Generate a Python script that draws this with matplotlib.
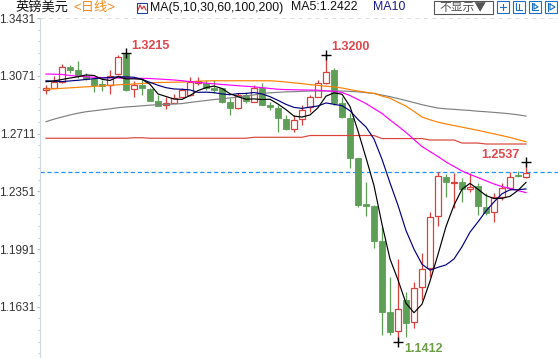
import matplotlib
matplotlib.use("Agg")
import matplotlib.pyplot as plt
from matplotlib.patches import Rectangle
from matplotlib.lines import Line2D

plt.rcParams['font.family'] = ['Liberation Sans', 'Noto Sans CJK SC', 'DejaVu Sans']
plt.rcParams['lines.scale_dashes'] = False

# ---------------- data ----------------
opens = [1.2981, 1.2995, 1.3030, 1.3124, 1.3107, 1.3070, 1.3051, 1.3020, 1.3014, 1.3080,
         1.3205, 1.2987, 1.3014, 1.2987, 1.2914, 1.2886, 1.2903, 1.2941, 1.2951, 1.3029,
         1.3026, 1.2993, 1.2993, 1.2910, 1.2868, 1.2951, 1.2910, 1.2993, 1.2889, 1.2872,
         1.2800, 1.2738, 1.2800, 1.2878, 1.2941, 1.3024, 1.3107, 1.2900, 1.2806, 1.2557,
         1.2272, 1.2260, 1.2042, 1.1601, 1.1481, 1.1674, 1.1535, 1.1753, 1.1872, 1.2197,
         1.2442, 1.2405, 1.2407, 1.2364, 1.2384, 1.2255, 1.2221, 1.2314, 1.2374, 1.2450,
         1.2442]
highs = [1.3014, 1.3072, 1.3144, 1.3140, 1.3163, 1.3087, 1.3057, 1.3045, 1.3107, 1.3200,
         1.3215, 1.3040, 1.3051, 1.2995, 1.2951, 1.2937, 1.2956, 1.2995, 1.3065, 1.3065,
         1.3045, 1.3045, 1.2997, 1.2933, 1.2962, 1.2972, 1.3014, 1.3024, 1.2910, 1.2889,
         1.2827, 1.2827, 1.2889, 1.2951, 1.3045, 1.3200, 1.3118, 1.2941, 1.2837, 1.2559,
         1.2411, 1.2266, 1.2131, 1.1819, 1.1928, 1.1726, 1.1788, 1.1965, 1.2224, 1.2473,
         1.2459, 1.2463, 1.2432, 1.2467, 1.2401, 1.2341, 1.2339, 1.2401, 1.2473, 1.2478,
         1.2537]
lows = [1.2958, 1.2992, 1.3024, 1.3087, 1.3055, 1.3045, 1.2968, 1.2976, 1.2958, 1.3076,
        1.2979, 1.2941, 1.2951, 1.2914, 1.2880, 1.2862, 1.2901, 1.2939, 1.2948, 1.3014,
        1.2982, 1.2964, 1.2903, 1.2827, 1.2867, 1.2900, 1.2908, 1.2886, 1.2858, 1.2723,
        1.2736, 1.2723, 1.2764, 1.2847, 1.2939, 1.3021, 1.2889, 1.2808, 1.2495, 1.2255,
        1.2197, 1.2000, 1.1456, 1.1456, 1.1412, 1.1446, 1.1498, 1.1674, 1.1819, 1.2135,
        1.2318, 1.2245, 1.2287, 1.2349, 1.2204, 1.2204, 1.2162, 1.2297, 1.2359, 1.2440,
        1.2432]
closes = [1.2995, 1.3030, 1.3124, 1.3107, 1.3070, 1.3049, 1.3014, 1.3007, 1.3072, 1.3186,
          1.2982, 1.3014, 1.2993, 1.2916, 1.2883, 1.2903, 1.2935, 1.2982, 1.3034, 1.3039,
          1.2995, 1.2982, 1.2910, 1.2868, 1.2951, 1.2914, 1.2993, 1.2889, 1.2875, 1.2806,
          1.2738, 1.2796, 1.2858, 1.2941, 1.3028, 1.3096, 1.2903, 1.2812, 1.2557, 1.2266,
          1.2262, 1.2042, 1.1601, 1.1477, 1.1616, 1.1533, 1.1747, 1.1867, 1.2193, 1.2447,
          1.2407, 1.2409, 1.2364, 1.2380, 1.2260, 1.2214, 1.2314, 1.2370, 1.2442, 1.2444,
          1.2463]

ma5 = [1.3034, 1.3039, 1.3048, 1.3057, 1.3065, 1.3076, 1.3073, 1.3049, 1.3042, 1.3065,
       1.3052, 1.3052, 1.3049, 1.3018, 1.2958, 1.2942, 1.2926, 1.2924, 1.2948, 1.2979,
       1.2997, 1.3007, 1.2992, 1.2959, 1.2941, 1.2925, 1.2927, 1.2923, 1.2925, 1.2895,
       1.2860, 1.2820, 1.2814, 1.2827, 1.2872, 1.2944, 1.2965, 1.2956, 1.2880, 1.2727,
       1.2560, 1.2387, 1.2146, 1.1930, 1.1799, 1.1654, 1.1595, 1.1648, 1.1791, 1.1958,
       1.2132, 1.2265, 1.2364, 1.2401, 1.2364, 1.2325, 1.2306, 1.2308, 1.2320, 1.2357,
       1.2407]
ma10 = [1.3040, 1.3037, 1.3035, 1.3039, 1.3043, 1.3048, 1.3053, 1.3057, 1.3060, 1.3065,
        1.3064, 1.3062, 1.3049, 1.3030, 1.3012, 1.2997, 1.2989, 1.2987, 1.2983, 1.2968,
        1.2969, 1.2966, 1.2958, 1.2953, 1.2960, 1.2961, 1.2967, 1.2958, 1.2941, 1.2918,
        1.2893, 1.2874, 1.2868, 1.2876, 1.2883, 1.2902, 1.2893, 1.2885, 1.2853, 1.2799,
        1.2752, 1.2677, 1.2551, 1.2404, 1.2264, 1.2107, 1.1991, 1.1897, 1.1860, 1.1878,
        1.1893, 1.1930, 1.2006, 1.2097, 1.2161, 1.2229, 1.2285, 1.2336, 1.2361, 1.2361,
        1.2366]
ma30 = [1.3082, 1.3081, 1.3079, 1.3073, 1.3068, 1.3065, 1.3062, 1.3060, 1.3058, 1.3057,
        1.3056, 1.3055, 1.3055, 1.3054, 1.3051, 1.3048, 1.3045, 1.3040, 1.3035, 1.3030,
        1.3025, 1.3021, 1.3017, 1.3013, 1.3009, 1.3006, 1.3002, 1.2997, 1.2992, 1.2987,
        1.2985, 1.2984, 1.2983, 1.2982, 1.2981, 1.2977, 1.2974, 1.2967, 1.2948, 1.2923,
        1.2898, 1.2867, 1.2836, 1.2796, 1.2758, 1.2718, 1.2674, 1.2630, 1.2599, 1.2568,
        1.2534, 1.2506, 1.2478, 1.2456, 1.2437, 1.2417, 1.2397, 1.2381, 1.2370, 1.2356,
        1.2343]
ma60 = [1.2987, 1.2990, 1.2993, 1.2996, 1.2999, 1.3002, 1.3005, 1.3008, 1.3012, 1.3015,
        1.3017, 1.3020, 1.3023, 1.3028, 1.3029, 1.3030, 1.3031, 1.3032, 1.3034, 1.3037,
        1.3039, 1.3040, 1.3040, 1.3040, 1.3040, 1.3040, 1.3040, 1.3040, 1.3040, 1.3037,
        1.3032, 1.3027, 1.3022, 1.3016, 1.3011, 1.3006, 1.3002, 1.2995, 1.2985, 1.2976,
        1.2968, 1.2961, 1.2945, 1.2931, 1.2906, 1.2882, 1.2849, 1.2814, 1.2797, 1.2782,
        1.2771, 1.2761, 1.2751, 1.2741, 1.2731, 1.2720, 1.2709, 1.2698, 1.2687, 1.2673,
        1.2660]
ma100 = [1.2785, 1.2801, 1.2814, 1.2827, 1.2838, 1.2847, 1.2853, 1.2859, 1.2865, 1.2872,
         1.2877, 1.2880, 1.2884, 1.2888, 1.2891, 1.2893, 1.2895, 1.2898, 1.2905, 1.2911,
         1.2917, 1.2923, 1.2928, 1.2933, 1.2939, 1.2946, 1.2952, 1.2960, 1.2965, 1.2968,
         1.2971, 1.2972, 1.2974, 1.2976, 1.2976, 1.2976, 1.2976, 1.2976, 1.2974, 1.2971,
         1.2966, 1.2961, 1.2951, 1.2941, 1.2929, 1.2917, 1.2904, 1.2891, 1.2880, 1.2870,
         1.2865, 1.2862, 1.2858, 1.2855, 1.2850, 1.2847, 1.2843, 1.2839, 1.2834, 1.2828,
         1.2820]
ma200 = [1.2682, 1.2682, 1.2682, 1.2682, 1.2682, 1.2682, 1.2682, 1.2682, 1.2682, 1.2682,
         1.2682, 1.2685, 1.2685, 1.2682, 1.2682, 1.2682, 1.2682, 1.2682, 1.2682, 1.2682,
         1.2682, 1.2682, 1.2682, 1.2682, 1.2682, 1.2682, 1.2688, 1.2688, 1.2688, 1.2688,
         1.2688, 1.2688, 1.2688, 1.2699, 1.2699, 1.2699, 1.2699, 1.2699, 1.2699, 1.2699,
         1.2699, 1.2699, 1.2680, 1.2680, 1.2680, 1.2680, 1.2680, 1.2680, 1.2671, 1.2671,
         1.2671, 1.2671, 1.2652, 1.2652, 1.2652, 1.2646, 1.2646, 1.2646, 1.2646, 1.2646,
         1.2646]

current_price = 1.2470
y_ticks = [1.3431, 1.3071, 1.2711, 1.2351, 1.1991, 1.1631]
y_tick_labels = ["1.3431", "1.3071", "1.2711", "1.2351", "1.1991", "1.1631"]
minor_step = 0.0072

# extremes: (index, value, label)
high1 = (10, 1.3215, "1.3215")
high2 = (35, 1.3200, "1.3200")
high3 = (60, 1.2537, "1.2537")
low1 = (44, 1.1412, "1.1412")

title_name = "英镑美元"
title_period = "<日线>"
ma_title = "MA(5,10,30,60,100,200)"
ma5_text = "MA5:1.2422"
ma10_text = "MA10"
btn_text = "不显示▼"

# ---------------- style ----------------
RED = '#d9413c'
GREEN = '#5e9f58'
W, H = 558, 358

fig = plt.figure(figsize=(W / 100, H / 100), dpi=100)
fig.patch.set_facecolor('white')
ax = fig.add_axes([40 / W, 0, 1 - 40 / W, 340 / H])
ax.set_xlim(-0.75, 64)
ax.set_ylim(1.13129, 1.34310)

n = len(closes)
bw = 0.72
for i in range(n):
    o, h, l, c = opens[i], highs[i], lows[i], closes[i]
    up = c >= o
    col = RED if up else GREEN
    ax.plot([i, i], [l, h], color=col, lw=0.9, zorder=3, solid_capstyle='butt')
    bot, top = min(o, c), max(o, c)
    hgt = max(top - bot, 0.00025)
    if up:
        ax.add_patch(Rectangle((i - bw / 2, bot), bw, hgt, facecolor='white',
                               edgecolor=col, lw=0.9, zorder=4))
    else:
        ax.add_patch(Rectangle((i - bw / 2, bot), bw, hgt, facecolor=col,
                               edgecolor=col, lw=0.6, zorder=4))

xs = list(range(n))
ax.plot(xs, ma200, color='#d8443c', lw=0.85, zorder=5)
ax.plot(xs, ma100, color='#808080', lw=0.85, zorder=5)
ax.plot(xs, ma60, color='#ff8000', lw=0.85, zorder=5)
ax.plot(xs, ma30, color='#ff00ff', lw=0.85, zorder=5)
ax.plot(xs, ma10, color='#000080', lw=0.85, zorder=6)
ax.plot(xs, ma5, color='#000000', lw=0.85, zorder=6)

ax.axhline(current_price, color='#1e90ff', lw=0.9, dashes=(3, 2), zorder=2)

# extremes
for (idx, val, lab), off, ha, tc in [
        (high1, (5, 7), 'left', '#e0474c'),
        (high2, (5, 8), 'left', '#e0474c'),
        (high3, (-6, 7), 'right', '#e0474c'),
        (low1, (6, -7), 'left', '#6e9d48')]:
    ax.plot([idx], [val], marker='+', color='black', ms=7, mew=1.0, zorder=8)
    ax.annotate(lab, (idx, val), xytext=off, textcoords='offset pixels',
                ha=ha, va='center', color=tc, fontsize=9, fontweight='bold', zorder=9)

# axes styling
for s in ['top', 'right', 'bottom']:
    ax.spines[s].set_visible(False)
ax.spines['left'].set_color('#d0d8e0')
ax.spines['left'].set_linewidth(0.8)
ax.set_xticks([])
ax.set_yticks(y_ticks)
ax.set_yticklabels(y_tick_labels)
minors = [y_ticks[-1] - minor_step * k for k in range(-30, 10)]
ax.set_yticks([m for m in minors if 1.1313 < m < 1.3431], minor=True)
ax.tick_params(axis='y', which='major', length=2.5, width=0.8, color='#b8c0c8',
               pad=1, labelsize=8.5, labelcolor='#333333')
ax.tick_params(axis='y', which='minor', length=1.5, width=0.8, color='#c8d0d8')
ax.axhline(1.3431, color='#e0e0e0', lw=0.8, dashes=(3, 3), zorder=1)

# ---------------- header ----------------
def fx(x):
    return x / W

def fy(y):
    return 1 - y / H

fig.text(fx(16), fy(7.5), title_name, fontsize=9.5, color='#111111', va='center', ha='left')
fig.text(fx(73), fy(7.5), title_period, fontsize=9.5, color='#f08a1c', va='center', ha='left')
# small indicator icon
fig.patches.append(Rectangle((fx(137), fy(13)), 10 / W, 10 / H, transform=fig.transFigure,
                             facecolor='white', edgecolor='#2040a0', lw=0.8))
fig.lines.append(Line2D([fx(138), fx(140), fx(142), fx(144), fx(146)],
                        [fy(10), fy(5), fy(9), fy(6), fy(10)], transform=fig.transFigure,
                        color='#d03030', lw=0.8))
fig.text(fx(150), fy(7.5), ma_title, fontsize=8.9, color='#111111', va='center', ha='left')
fig.text(fx(291), fy(7.5), ma5_text, fontsize=8.9, color='#111111', va='center', ha='left')
fig.text(fx(373), fy(7.5), ma10_text, fontsize=8.9, color='#1c1c8c', va='center', ha='left')

# button
fig.patches.append(Rectangle((fx(433.5), fy(13.5)), 59 / W, 13 / H, transform=fig.transFigure,
                             facecolor='white', edgecolor='#555555', lw=0.8))
fig.text(fx(463), fy(7), btn_text, fontsize=8.5, color='#555555', va='center', ha='center',
         family=['Noto Sans CJK SC', 'DejaVu Sans'])
# blue icons
for bx in [497, 513, 529, 545]:
    fig.patches.append(Rectangle((fx(bx), fy(13)), 12 / W, 12 / H, transform=fig.transFigure,
                                 facecolor='white', edgecolor='#1c6fc4', lw=0.8))
fig.lines.append(Line2D([fx(500), fx(506)], [fy(7), fy(7)], transform=fig.transFigure, color='#1c6fc4', lw=0.8))
fig.lines.append(Line2D([fx(503), fx(503)], [fy(4), fy(10)], transform=fig.transFigure, color='#1c6fc4', lw=0.8))
fig.lines.append(Line2D([fx(516), fx(516), fx(522)], [fy(3), fy(10), fy(10)], transform=fig.transFigure, color='#1c6fc4', lw=0.8))
fig.lines.append(Line2D([fx(519), fx(519)], [fy(4), fy(9)], transform=fig.transFigure, color='#1c6fc4', lw=0.8))
fig.lines.append(Line2D([fx(532), fx(532), fx(538)], [fy(3), fy(10), fy(10)], transform=fig.transFigure, color='#1c6fc4', lw=0.8))
fig.lines.append(Line2D([fx(534), fx(538), fx(534), fx(534)], [fy(4), fy(7), fy(9), fy(4)], transform=fig.transFigure, color='#1c6fc4', lw=0.8))
fig.lines.append(Line2D([fx(548), fx(548)], [fy(3), fy(11)], transform=fig.transFigure, color='#1c6fc4', lw=0.8))
fig.lines.append(Line2D([fx(550), fx(555), fx(550), fx(550)], [fy(4), fy(7), fy(10), fy(4)], transform=fig.transFigure, color='#1c6fc4', lw=0.8))

fig.savefig('out.png', dpi=100)
